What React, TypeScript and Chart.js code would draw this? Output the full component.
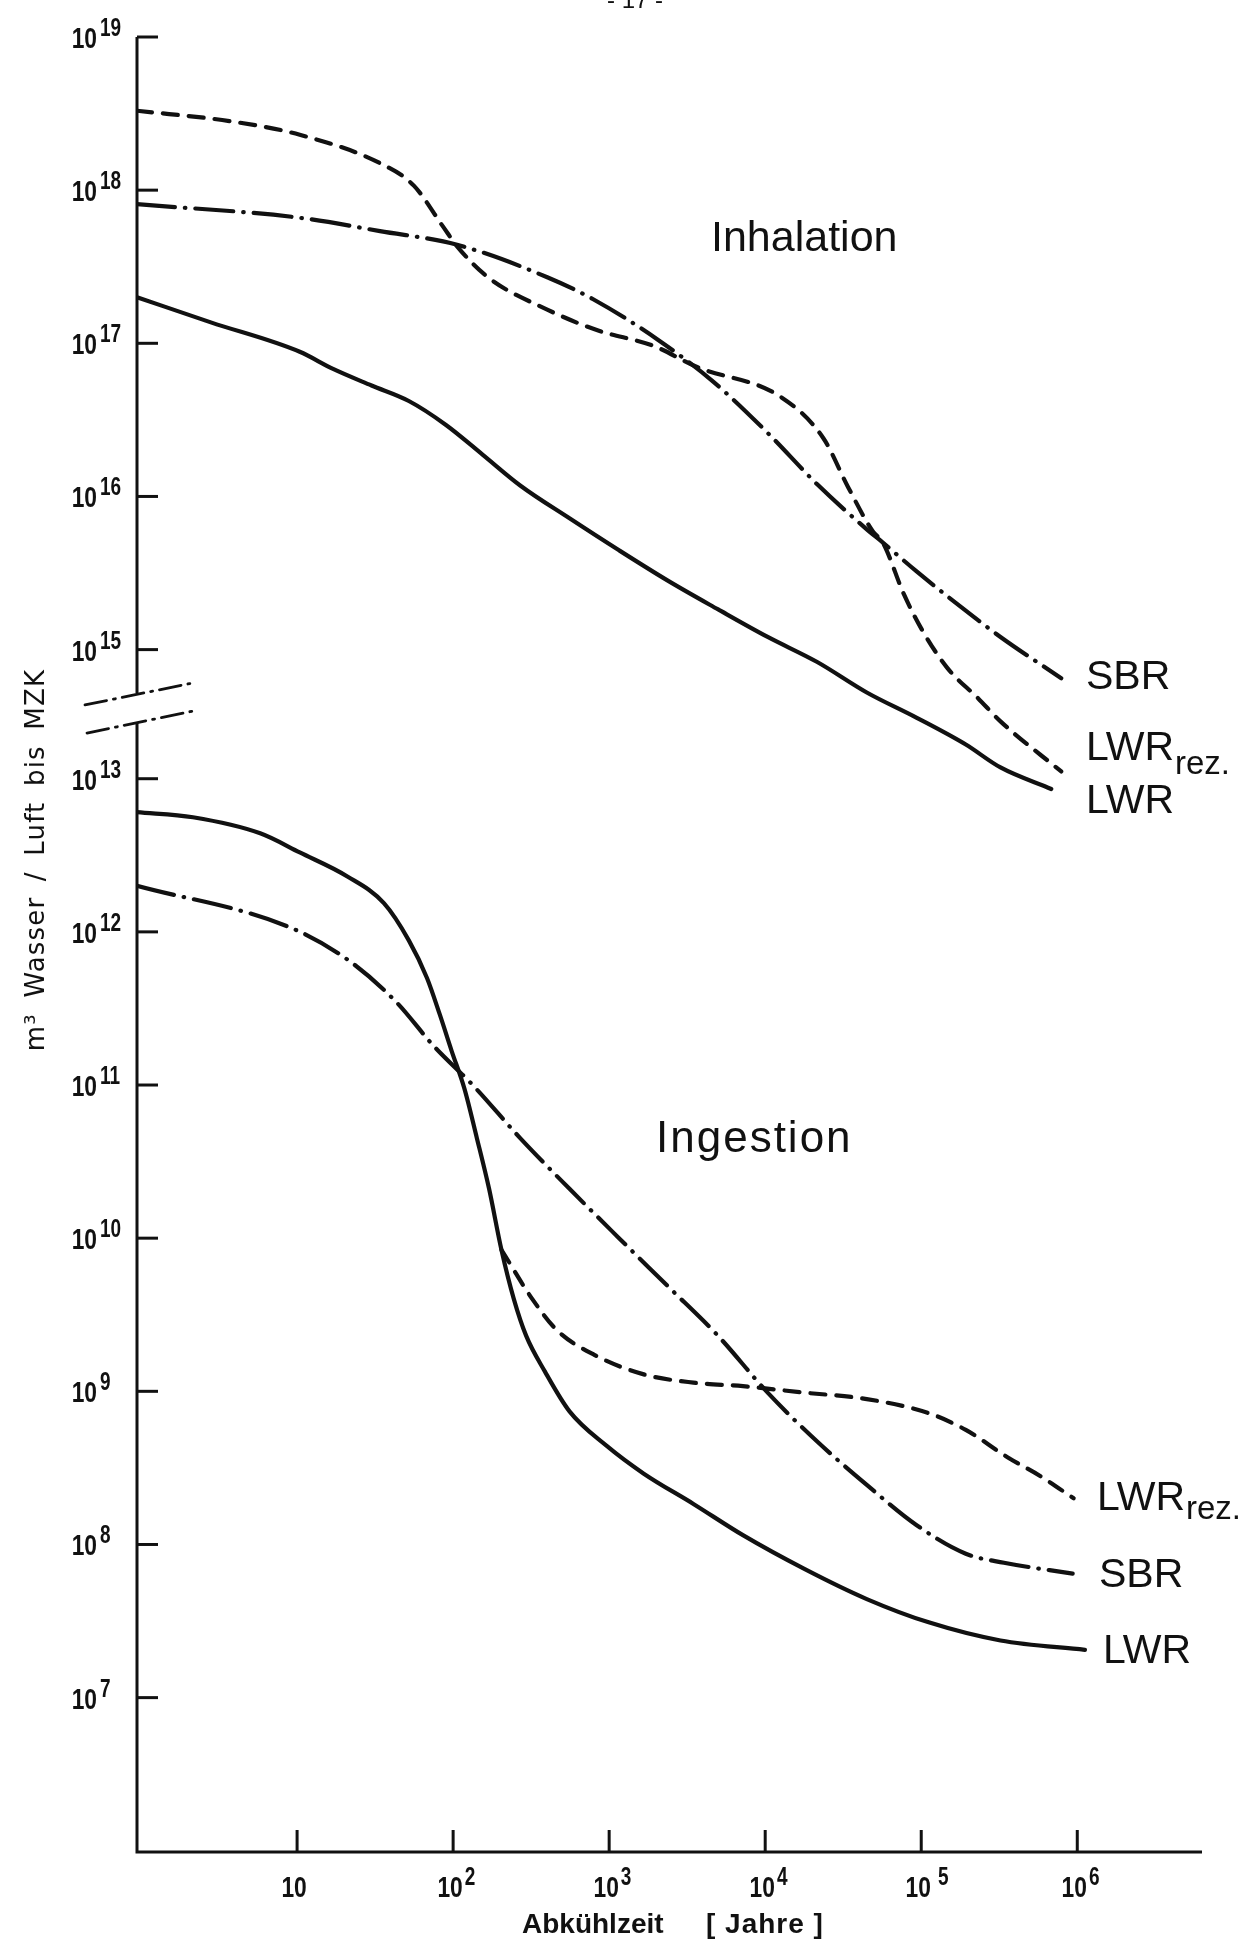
import React, { useEffect, useRef } from 'react';
import { Chart, registerables } from 'chart.js';

Chart.register(...registerables);

// ---------------- axis definition ----------------
const X_MIN_YEARS = 0.942;
const X_MAX_YEARS = 6.3e6;
// the axis is broken between 10^15 and 10^13: the upper (Inhalation) part is shifted down by this many decades
const BREAK_SHIFT = 1.157;
const Y_BOTTOM_POS = 5.992;
const Y_TOP_EXP = 19;
const BREAK_GAP_TOP_POS = 13.56;
const BREAK_GAP_BOTTOM_POS = 13.37;

const xTickExponents = [1, 2, 3, 4, 5, 6];
const upperTickExponents = [19, 18, 17, 16, 15];
const lowerTickExponents = [13, 12, 11, 10, 9, 8, 7];

const xTitleMain = 'Abkühlzeit';
const xTitleUnit = '[ Jahre ]';
const yTitle = 'm³ Wasser / Luft bis MZK';
const pageHeader = '- 17 -';

// ---------------- Inhalation (upper part) ----------------
const inhLwrRezYears = [0.942, 3.9, 10.4, 34, 56, 86, 106, 167, 401, 833, 1930, 3660, 12450, 23600, 34000, 49000, 56750, 77400, 101800, 146800, 231800, 322000, 789000];
const inhLwrRezValues = [3.3e18, 2.8e18, 2.3e18, 1.5e18, 1.07e18, 5.8e17, 4.3e17, 2.7e17, 1.66e17, 1.22e17, 9.6e16, 7.0e16, 4.5e16, 2.4e16, 1.15e16, 5.9e15, 5.0e15, 2.3e15, 1.33e15, 7.6e14, 4.8e14, 3.4e14, 1.6e14];

const inhSbrYears = [0.942, 10.4, 34, 106, 401, 790, 2040, 4660, 10370, 21540, 44770, 56750, 93000, 176200, 322000, 789000];
const inhSbrValues = [8.1e17, 6.6e17, 5.4e17, 4.4e17, 2.7e17, 1.94e17, 1.06e17, 5.6e16, 2.6e16, 1.2e16, 6.1e15, 5.0e15, 3.25e15, 1.93e15, 1.21e15, 6.5e14];

const inhLwrYears = [0.942, 2.8, 10.4, 17, 30, 52, 90, 155, 269, 557, 1157, 2405, 4993, 10370, 21540, 44770, 93000, 193000, 322000, 681000];
const inhLwrValues = [2.0e17, 1.37e17, 8.8e16, 6.8e16, 5.3e16, 4.2e16, 2.93e16, 1.87e16, 1.18e16, 7.2e15, 4.45e15, 2.8e15, 1.83e15, 1.21e15, 8.3e14, 5.25e14, 3.6e14, 2.4e14, 1.7e14, 1.23e14];

// ---------------- Ingestion (lower part) ----------------
const ingLwrYears = [0.942, 2.15, 5.8, 10.4, 21, 36, 52, 68, 82, 98, 118, 142, 170, 204, 245, 294, 387, 557, 965, 1667, 3467, 7197, 17940, 44770, 111600, 322000, 1120000];
const ingLwrValues = [6.05e12, 5.6e12, 4.4e12, 3.3e12, 2.3e12, 1.54e12, 8.8e11, 5.0e11, 2.9e11, 1.66e11, 9.5e10, 4.5e10, 2.1e10, 8.4e9, 4.0e9, 2.3e9, 1.35e9, 7.4e8, 4.4e8, 2.9e8, 1.84e8, 1.15e8, 6.9e7, 4.4e7, 3.1e7, 2.36e7, 2.05e7];

const ingSbrYears = [0.942, 9.0, 21, 43, 75, 136, 269, 557, 1157, 2405, 4993, 10370, 21540, 44770, 93000, 193000, 339000, 934000];
const ingSbrValues = [2.0e12, 1.07e12, 6.6e11, 3.5e11, 1.8e11, 9.8e10, 4.5e10, 2.1e10, 1.0e10, 4.8e9, 2.3e9, 9.8e8, 4.7e8, 2.45e8, 1.34e8, 8.7e7, 7.6e7, 6.45e7];

const ingLwrRezYears = [204, 322, 464, 803, 1667, 3467, 7197, 17940, 44770, 111600, 193000, 359000, 578000, 948000];
const ingLwrRezValues = [8.4e9, 4.0e9, 2.5e9, 1.73e9, 1.29e9, 1.14e9, 1.08e9, 9.8e8, 8.9e8, 7.2e8, 5.6e8, 3.7e8, 2.8e8, 2.0e8];

const INK = '#111111';
const FONT = '"Liberation Sans", Arimo, "DejaVu Sans", sans-serif';
const TITLE_FONT = '"DejaVu Sans", "Liberation Sans", sans-serif';

const SOLID: number[] = [];
const DASHED = [15, 11];
const DASH_DOT = [38, 10, 0.5, 10];

const toPos = (v: number, upper: boolean) => Math.log10(v) - (upper ? BREAK_SHIFT : 0);

function series(label: string, years: number[], values: number[], upper: boolean, dash: number[]) {
  return {
    label,
    data: years.map((x, i) => ({ x, y: toPos(values[i], upper) })),
    borderColor: INK,
    borderWidth: 4.2,
    borderDash: dash,
    borderCapStyle: 'round',
    borderJoinStyle: 'round',
    pointRadius: 0,
    fill: false,
    cubicInterpolationMode: 'monotone',
  };
}

const SX = 0.76;

function width10(ctx: CanvasRenderingContext2D) {
  ctx.save();
  ctx.font = `bold 30px ${FONT}`;
  const w = ctx.measureText('10').width * SX;
  ctx.restore();
  return w;
}

function drawPow(ctx: CanvasRenderingContext2D, xLeftOf10: number, baseline: number, exp: number, supGap: number) {
  const w10 = width10(ctx);
  ctx.save();
  ctx.font = `bold 30px ${FONT}`;
  ctx.translate(xLeftOf10, baseline);
  ctx.scale(SX, 1);
  ctx.textAlign = 'left';
  ctx.fillText('10', 0, 0);
  ctx.restore();
  if (exp !== 1) {
    ctx.save();
    ctx.font = `bold 25px ${FONT}`;
    ctx.translate(xLeftOf10 + w10 + supGap, baseline - 12);
    ctx.scale(SX, 1);
    ctx.textAlign = 'left';
    ctx.fillText(String(exp), 0, 0);
    ctx.restore();
  }
}

const paperPlugin = {
  id: 'paper',
  beforeDraw(chart: any) {
    const { ctx, width, height } = chart;
    ctx.save();
    ctx.fillStyle = '#ffffff';
    ctx.fillRect(0, 0, width, height);
    ctx.restore();
  },
  afterDatasetsDraw(chart: any) {
    const { ctx, chartArea, scales } = chart;
    const xs = scales.x;
    const ys = scales.y;
    const ax = chartArea.left;
    const ay = chartArea.bottom;
    ctx.save();
    ctx.strokeStyle = INK;
    ctx.fillStyle = INK;
    ctx.lineWidth = 3;
    ctx.lineCap = 'butt';
    ctx.setLineDash([]);

    const gapTop = ys.getPixelForValue(BREAK_GAP_TOP_POS);
    const gapBot = ys.getPixelForValue(BREAK_GAP_BOTTOM_POS);
    ctx.beginPath();
    ctx.moveTo(ax, chartArea.top);
    ctx.lineTo(ax, gapTop);
    ctx.moveTo(ax, gapBot);
    ctx.lineTo(ax, ay);
    ctx.lineTo(chartArea.right, ay);
    ctx.stroke();

    // y ticks and labels
    const yTicks: number[] = [
      ...upperTickExponents.map((e) => e - BREAK_SHIFT),
      ...lowerTickExponents,
    ];
    const yExps = [...upperTickExponents, ...lowerTickExponents];
    const w10 = width10(ctx);
    yTicks.forEach((p, i) => {
      const y = ys.getPixelForValue(p);
      ctx.beginPath();
      ctx.moveTo(ax, y);
      ctx.lineTo(ax + 21, y);
      ctx.stroke();
      drawPow(ctx, 97 - w10, y + 11, yExps[i], 3);
    });

    // x ticks and labels
    xTickExponents.forEach((e) => {
      const x = xs.getPixelForValue(Math.pow(10, e));
      ctx.beginPath();
      ctx.moveTo(x, ay);
      ctx.lineTo(x, ay - 22);
      ctx.stroke();
      drawPow(ctx, x - 3 - w10 / 2, ay + 45, e, e === 5 ? 7 : 2);
    });

    // axis break marks
    ctx.lineWidth = 2.8;
    ctx.setLineDash([22, 7, 2, 7]);
    ctx.lineCap = 'round';
    ctx.beginPath();
    ctx.moveTo(ax - 52, gapTop + 12);
    ctx.lineTo(ax + 56, gapTop - 10);
    ctx.moveTo(ax - 50, gapBot + 11);
    ctx.lineTo(ax + 61, gapBot - 12);
    ctx.stroke();
    ctx.setLineDash([]);

    // axis titles
    ctx.font = `bold 28px ${FONT}`;
    ctx.textAlign = 'left';
    ctx.textBaseline = 'alphabetic';
    ctx.fillText(xTitleMain, 522, 1933);
    ctx.save();
    (ctx as any).letterSpacing = '1px';
    ctx.fillText(xTitleUnit, 706, 1933);
    ctx.restore();

    ctx.save();
    ctx.translate(44, 860);
    ctx.rotate(-Math.PI / 2);
    ctx.font = `26px ${TITLE_FONT}`;
    (ctx as any).letterSpacing = '1.2px';
    (ctx as any).wordSpacing = '6px';
    ctx.textAlign = 'center';
    ctx.fillText(yTitle, 0, 0);
    ctx.restore();

    // panel titles
    ctx.font = `43px ${FONT}`;
    ctx.textAlign = 'left';
    ctx.fillText('Inhalation', 711, 251);
    ctx.save();
    ctx.font = `44px ${FONT}`;
    (ctx as any).letterSpacing = '2px';
    ctx.fillText('Ingestion', 656, 1152);
    ctx.restore();

    // curve labels
    const lab = (t: string, x: number, y: number, sub?: string, sx?: number, sy?: number) => {
      ctx.font = `41px ${FONT}`;
      ctx.fillText(t, x, y);
      if (sub) {
        ctx.font = `33px ${FONT}`;
        ctx.fillText(sub, sx as number, sy as number);
      }
    };
    lab('SBR', 1086, 689);
    lab('LWR', 1086, 760, 'rez.', 1175, 774);
    lab('LWR', 1086, 813);
    lab('LWR', 1097, 1510, 'rez.', 1186, 1519);
    lab('SBR', 1099, 1587);
    lab('LWR', 1103, 1663);

    // page number at the top (cut off)
    ctx.font = `24px ${FONT}`;
    ctx.textAlign = 'center';
    ctx.fillText(pageHeader, 635, 8);

    ctx.restore();
  },
};

export default function App() {
  const canvasRef = useRef<HTMLCanvasElement | null>(null);

  useEffect(() => {
    const canvas = canvasRef.current;
    if (!canvas) return;
    const chart = new Chart(canvas, {
      type: 'line',
      data: {
        datasets: [
          series('LWR rez. (Inhalation)', inhLwrRezYears, inhLwrRezValues, true, DASHED),
          series('SBR (Inhalation)', inhSbrYears, inhSbrValues, true, DASH_DOT),
          series('LWR (Inhalation)', inhLwrYears, inhLwrValues, true, SOLID),
          series('LWR (Ingestion)', ingLwrYears, ingLwrValues, false, SOLID),
          series('SBR (Ingestion)', ingSbrYears, ingSbrValues, false, DASH_DOT),
          series('LWR rez. (Ingestion)', ingLwrRezYears, ingLwrRezValues, false, DASHED),
        ] as any,
      },
      options: {
        animation: false,
        responsive: false,
        maintainAspectRatio: false,
        devicePixelRatio: 1,
        layout: { padding: { left: 137, right: 49, top: 37, bottom: 88 } },
        plugins: { legend: { display: false }, tooltip: { enabled: false } },
        scales: {
          x: { type: 'logarithmic', min: X_MIN_YEARS, max: X_MAX_YEARS, display: false },
          y: { type: 'linear', min: Y_BOTTOM_POS, max: Y_TOP_EXP - BREAK_SHIFT, display: false },
        },
      } as any,
      plugins: [paperPlugin as any],
    });
    return () => chart.destroy();
  }, []);

  return (
    <div style={{ position: 'absolute', left: 0, top: 0, width: 1251, height: 1940, background: '#fff' }}>
      <canvas ref={canvasRef} width={1251} height={1940} style={{ display: 'block' }} />
    </div>
  );
}
